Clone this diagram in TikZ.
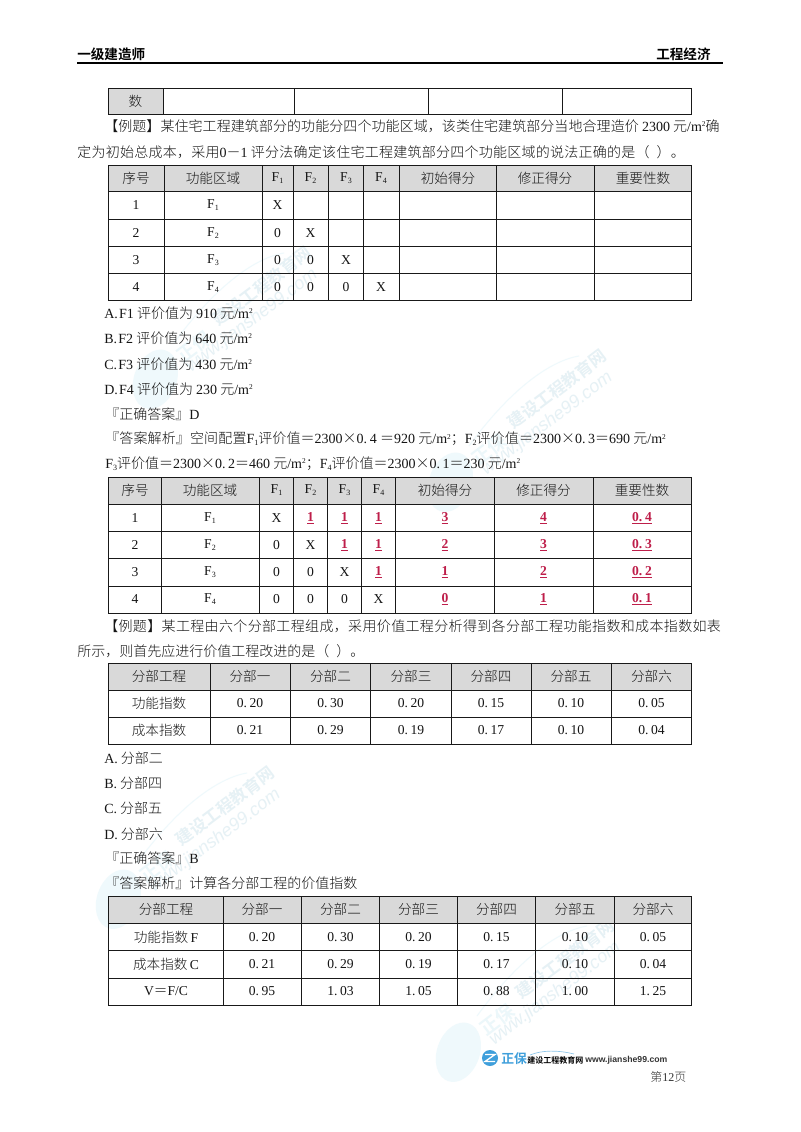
\documentclass[tikz,border=0pt]{standalone}
\usepackage{fontspec}
\setmainfont{Noto Sans CJK SC}[UprightFont=* Light,BoldFont=* Bold]
\newfontfamily\latf{Liberation Serif}
\newfontfamily\wwwf{Liberation Sans}
\newcommand\lat[1]{{\latf #1}}
\newcommand\FF[1]{\lat{F}\raisebox{-1.5pt}{\fontsize{6pt}{6pt}\selectfont\lat{#1}}}
\newcommand\nn[2]{\lat{#1.\kern2pt #2}}
\newcommand\msq{\lat{/m}\raisebox{3.6pt}{\fontsize{5.5pt}{6pt}\selectfont\lat{2}}}
\newcommand\rr[1]{{\bfseries\color{ansred}\underline{\lat{#1}}}}
\definecolor{ansred}{HTML}{BE1E4A}
\definecolor{wmblue}{HTML}{E6F1F5}
\definecolor{wmcirc}{HTML}{EFF9FC}
\definecolor{ink}{HTML}{151515}
\definecolor{headgray}{HTML}{D9D9D9}
\definecolor{logoblue}{HTML}{3F9FDB}
\tikzset{
  tline/.style={line width=1.25pt,line cap=rect,color=black!90},
  headfill/.style={fill=headgray,draw=none},
  body/.style={anchor=west,inner sep=0pt,font=\fontsize{10.5pt}{12pt}\selectfont,text=ink},
  cell/.style={anchor=center,inner sep=0pt,font=\fontsize{10.2pt}{12pt}\selectfont,text=ink},
}
\newcommand\tgrid[6]{%
  \foreach \x in {#1} \draw[tline] (\x,#5)--(\x,#6);
  \foreach \y in {#2} \draw[tline] (#3,\y)--(#4,\y);
}
\newcommand\wmark[2]{%
  \begin{scope}[shift={(#1,#2)}]
    \fill[wmcirc,rotate=-20] (0,-4) ellipse [x radius=16pt,y radius=23pt];
    \node[rotate=37,inner sep=0pt,text=wmcirc!70!wmblue,font=\fontsize{14pt}{14pt}\selectfont\bfseries] at (40,-36) {正保};
    \node[rotate=37,inner sep=0pt,text=wmblue,font=\fontsize{12.6pt}{14pt}\selectfont\bfseries] at (108,-97) {建设工程教育网};
    \node[rotate=37,inner sep=0pt,text=wmblue,font=\fontsize{13.5pt}{14pt}\selectfont\wwwf\itshape] at (98,-62) {www.jianshe99.com};
    \draw[wmcirc,line width=0.8pt] (20,-40) .. controls (60,-95) and (100,-125) .. (130,-130);
  \end{scope}
}
\begin{document}
\begin{tikzpicture}[x=0.75pt,y=-0.75pt]
\useasboundingbox (0,0) rectangle (800,1132);
\fill[white] (0,0) rectangle (800,1132);
% watermarks
\wmark{154}{383}
\wmark{449}{486}
\wmark{117}{903}
\wmark{457}{1056}
% page head
\node[body,font=\fontsize{10.2pt}{12pt}\selectfont\bfseries,text=black] (headL) at (77,54) {一级建造师};
\node[body,font=\fontsize{10.2pt}{12pt}\selectfont\bfseries,text=black] (headR) at (656,54) {工程经济};
\draw[line width=1.5pt,black] (77,63)--(723,63);
% table 0
\fill[headfill] (108.5,88.5) rectangle (163.5,114.5);
\tgrid{108.5,163.5,294.5,428.5,562.5,691.5}{88.5,114.5}{108.5}{691.5}{88.5}{114.5}
\node[cell] at (135.5,101) {数};
% text 1
\node[body] at (104,126) {\addfontfeature{LetterSpace=0.5}【例题】某住宅工程建筑部分的功能分四个功能区域，该类住宅建筑部分当地合理造价 \lat{2300} 元\msq 确};
\node[body] at (77,152) {\addfontfeature{LetterSpace=1.8}定为初始总成本，采用\lat{0}－\lat{1} 评分法确定该住宅工程建筑部分四个功能区域的说法正确的是（\hspace{0.5em}）。};
% table 1
\fill[headfill] (108.5,165.5) rectangle (691.5,191.5);
\tgrid{108.5,164.5,262.5,293.5,328.5,363.5,399.5,496.5,594.5,691.5}{165.5,191.5,219.5,246.5,273.5,300.5}{108.5}{691.5}{165.5}{300.5}
\foreach \x/\t in {136/序号,213/功能区域,277.5/\FF1,310.5/\FF2,346/\FF3,381/\FF4,448/初始得分,545/修正得分,643/重要性数}
  \node[cell] at (\x,178) {\t};
\foreach \y/\n/\f in {205/1/1,233/2/2,260/3/3,287/4/4}{
  \node[cell] at (136,\y) {\lat{\n}};
  \node[cell] at (213,\y) {\FF\f};
}
\foreach \x/\y/\t in {277.5/205/X,277.5/233/0,310.5/233/X,277.5/260/0,310.5/260/0,346/260/X,277.5/287/0,310.5/287/0,346/287/0,381/287/X}
  \node[cell] at (\x,\y) {\lat{\t}};
% options 1
\node[body] at (104,313) {\lat{A.\kern1pt F1} 评价值为 \lat{910} 元\msq};
\node[body] at (104,338) {\lat{B.\kern1pt F2} 评价值为 \lat{640} 元\msq};
\node[body] at (104,364) {\lat{C.\kern1pt F3} 评价值为 \lat{430} 元\msq};
\node[body] at (104,389) {\lat{D.\kern1pt F4} 评价值为 \lat{230} 元\msq};
\node[body] at (105,414) {『正确答案』\lat{D}};
\node[body] at (105,439) {\addfontfeature{LetterSpace=1}『答案解析』空间配置\FF1评价值＝\lat{2300}×\nn{0}{4} ＝\lat{920} 元\msq；\FF2评价值＝\lat{2300}×\nn{0}{3}＝\lat{690} 元\msq};
\node[body] at (105,464) {\FF3评价值＝\lat{2300}×\nn{0}{2}＝\lat{460} 元\msq；\FF4评价值＝\lat{2300}×\nn{0}{1}＝\lat{230} 元\msq};
% table 2
\fill[headfill] (108.5,477.5) rectangle (691.5,504.5);
\tgrid{108.5,161.5,259.5,293.5,327.5,361.5,395.5,494.5,593.5,691.5}{477.5,504.5,531.5,558.5,586.5,613.5}{108.5}{691.5}{477.5}{613.5}
\foreach \x/\t in {135/序号,210/功能区域,276.5/\FF1,310.5/\FF2,344.5/\FF3,378.5/\FF4,445/初始得分,543.5/修正得分,642/重要性数}
  \node[cell] at (\x,490.5) {\t};
\foreach \y/\n/\f in {518/1/1,545/2/2,572.5/3/3,599.5/4/4}{
  \node[cell] at (135,\y) {\lat{\n}};
  \node[cell] at (210,\y) {\FF\f};
}
\foreach \x/\y/\t in {276.5/518/X,276.5/545/0,310.5/545/X,276.5/572.5/0,310.5/572.5/0,344.5/572.5/X,276.5/599.5/0,310.5/599.5/0,344.5/599.5/0,378.5/599.5/X}
  \node[cell] at (\x,\y) {\lat{\t}};
\foreach \x/\y/\t in {310.5/518/1,344.5/518/1,378.5/518/1,445/518/3,543.5/518/4,344.5/545/1,378.5/545/1,445/545/2,543.5/545/3,378.5/572.5/1,445/572.5/1,543.5/572.5/2,445/599.5/0,543.5/599.5/1}
  \node[cell] at (\x,\y) {\rr{\t}};
\foreach \y/\t in {518/4,545/3,572.5/2,599.5/1}
  \node[cell] at (642,\y) {\rr{0.\kern2pt\t}};
% text 2
\node[body] at (104,626) {\addfontfeature{LetterSpace=2.5}【例题】某工程由六个分部工程组成，采用价值工程分析得到各分部工程功能指数和成本指数如表};
\node[body] at (77,651) {所示，则首先应进行价值工程改进的是（\hspace{0.5em}）。};
% table 3
\fill[headfill] (108.5,663.5) rectangle (691.5,690.5);
\tgrid{108.5,210.5,290.5,370.5,451.5,531.5,611.5,691.5}{663.5,690.5,717.5,744.5}{108.5}{691.5}{663.5}{744.5}
\foreach \x/\t in {159/分部工程,250/分部一,330.5/分部二,411/分部三,491/分部四,571/分部五,651.5/分部六}
  \node[cell] at (\x,676.5) {\t};
\node[cell] at (159,703.5) {功能指数};
\foreach \x/\t in {250/20,330.5/30,411/20,491/15,571/10,651.5/05}
  \node[cell] at (\x,703.5) {\nn{0}{\t}};
\node[cell] at (159,730.5) {成本指数};
\foreach \x/\t in {250/21,330.5/29,411/19,491/17,571/10,651.5/04}
  \node[cell] at (\x,730.5) {\nn{0}{\t}};
% options 2
\node[body] at (104,758) {\lat{A.} 分部二};
\node[body] at (104,783) {\lat{B.} 分部四};
\node[body] at (104,808) {\lat{C.} 分部五};
\node[body] at (104,834) {\lat{D.} 分部六};
\node[body] at (105,858) {『正确答案』\lat{B}};
\node[body] at (105,883) {『答案解析』计算各分部工程的价值指数};
% table 4
\fill[headfill] (108.5,896.5) rectangle (691.5,923.5);
\tgrid{108.5,223.5,301.5,379.5,457.5,535.5,614.5,691.5}{896.5,923.5,950.5,978.5,1005.5}{108.5}{691.5}{896.5}{1005.5}
\foreach \x/\t in {166/分部工程,262/分部一,340.5/分部二,418.5/分部三,496.5/分部四,575/分部五,653/分部六}
  \node[cell] at (\x,909.5) {\t};
\node[cell] at (166,937) {功能指数\,\lat{F}};
\foreach \x/\t in {262/20,340.5/30,418.5/20,496.5/15,575/10,653/05}
  \node[cell] at (\x,937) {\nn{0}{\t}};
\node[cell] at (166,964) {成本指数\,\lat{C}};
\foreach \x/\t in {262/21,340.5/29,418.5/19,496.5/17,575/10,653/04}
  \node[cell] at (\x,964) {\nn{0}{\t}};
\node[cell] at (166,991.5) {\lat{V}＝\lat{F/C}};
\foreach \x/\a/\b in {262/0/95,340.5/1/03,418.5/1/05,496.5/0/88,575/1/00,653/1/25}
  \node[cell] at (\x,991.5) {\nn{\a}{\b}};
% footer
\fill[logoblue] (490,1058) circle (6pt);
\draw[white,line width=1pt] (485,1054.5)--(495,1054.5)--(485,1061.5)--(495,1061.5);
\node[body,font=\fontsize{9.6pt}{10pt}\selectfont\bfseries,text=logoblue] at (501,1058.5) {正保};
\draw[logoblue!60,line width=0.5pt] (530,1055) .. controls (542,1050) and (558,1050) .. (574,1054);
\node[body,font=\fontsize{6pt}{7pt}\selectfont\bfseries,text=black] at (527,1060.5) {建设工程教育网};
\node[body,font=\fontsize{6.5pt}{7pt}\selectfont\wwwf\bfseries,text=black!80] at (585,1060.5) {www.jianshe99.com};
\node[body,font=\fontsize{9pt}{10pt}\selectfont,text=black!80] at (650,1077) {第\lat{12}页};
\end{tikzpicture}
\end{document}
